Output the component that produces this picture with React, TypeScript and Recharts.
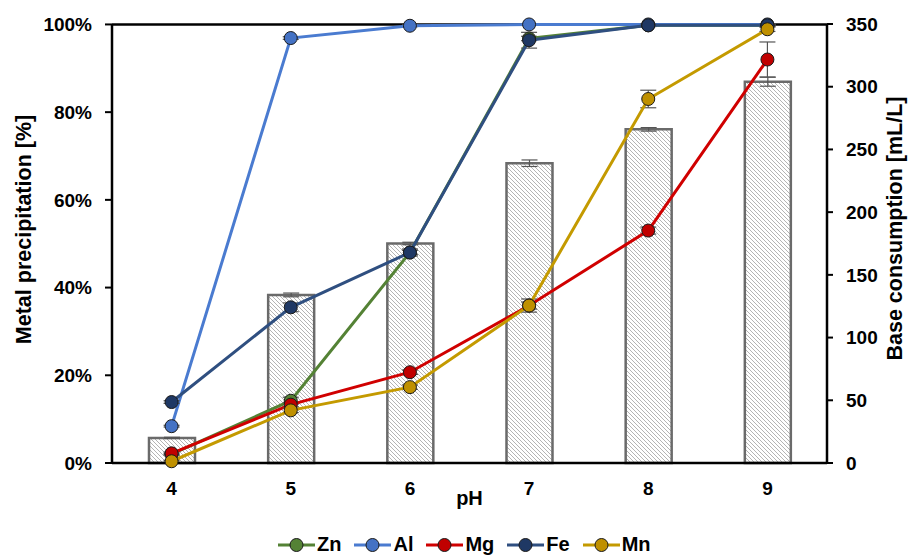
import React from 'react';
import {
  ComposedChart, Bar, Line, XAxis, YAxis, ErrorBar, ReferenceLine,
} from 'recharts';

const categories = ['4', '5', '6', '7', '8', '9'];
const baseConsumption = [20, 134, 175, 239, 266, 304];
const baseErr = [0.5, 1.5, 1, 2.6, 1.4, 3.6];
const zn = [2, 14.2, 48, 96.8, 99.8, 99.8];
const al = [8.4, 96.9, 99.7, 100, 100, 100];
const mg = [2.2, 13.3, 20.7, 35.9, 53, 92];
const fe = [13.9, 35.5, 48, 96.4, 99.8, 99.8];
const mn = [0.4, 12, 17.3, 35.9, 83, 98.9];
const mgErr = [0.3, 0.5, 0.5, 0.8, 0.8, 4];
const mnErr = [0.2, 0.5, 0.5, 1.5, 2, 0.5];
const feErr = [0.3, 1, 0.8, 1.8, 0.3, 0.3];
const znErr = [0.2, 0.8, 0.5, 0.5, 0.2, 0.2];
const alErr = [0.2, 0.3, 0.2, 0.1, 0.1, 0.1];

const series = [
  { key: 'Zn', values: zn, err: znErr, line: '#548235', dot: '#548235' },
  { key: 'Al', values: al, err: alErr, line: '#4A7BD0', dot: '#4472C4' },
  { key: 'Mg', values: mg, err: mgErr, line: '#D00000', dot: '#C00000' },
  { key: 'Fe', values: fe, err: feErr, line: '#2F4F80', dot: '#1F3864' },
  { key: 'Mn', values: mn, err: mnErr, line: '#C49A00', dot: '#BF9000' },
];

const data = categories.map((c, i) => {
  const row: any = { ph: c, base: baseConsumption[i], baseErr: baseErr[i] };
  series.forEach((s) => {
    row[s.key] = s.values[i];
    row[s.key + 'Err'] = s.err[i];
  });
  return row;
});

const FONT = '"Liberation Sans", Arial, sans-serif';

const LeftTitle = (props: any) => {
  const vb = props.viewBox || { x: 0, y: 24, width: 112, height: 439 };
  const x = vb.x + 24;
  const y = vb.y + vb.height / 2 - 14;
  return (
    <text x={x} y={y} transform={`rotate(-90, ${x}, ${y})`} textAnchor="middle" dominantBaseline="central"
      fontFamily={FONT} fontWeight="bold" fontSize={21.5} fill="#000">
      Metal precipitation [%]
    </text>
  );
};

const RightTitle = (props: any) => {
  const vb = props.viewBox || { x: 827, y: 24, width: 85, height: 439 };
  const x = vb.x + 68;
  const y = vb.y + vb.height / 2 - 15;
  return (
    <text x={x} y={y} transform={`rotate(-90, ${x}, ${y})`} textAnchor="middle" dominantBaseline="central"
      fontFamily={FONT} fontWeight="bold" fontSize={21.5} fill="#000">
      Base consumption [mL/L]
    </text>
  );
};

const tickStyle = { fontFamily: FONT, fontWeight: 'bold' as const, fontSize: 19, fill: '#000' };

const LegendBox = () => (
  <div style={{
    position: 'absolute', left: 278, top: 533, display: 'flex', alignItems: 'center',
    fontFamily: FONT, fontWeight: 'bold', fontSize: 20, lineHeight: '23px', color: '#000',
  }}>
    {series.map((s) => (
      <div key={s.key} style={{ display: 'flex', alignItems: 'center', marginRight: 13 }}>
        <svg width={37} height={16} style={{ marginRight: 2 }}>
          <line x1={0} y1={8} x2={37} y2={8} stroke={s.line} strokeWidth={3} />
          <circle cx={18.5} cy={8} r={6.5} fill={s.dot} stroke="#1a1a1a" strokeWidth={1} />
        </svg>
        <span>{s.key}</span>
      </div>
    ))}
  </div>
);

export default function App() {
  return (
    <div style={{ position: 'absolute', left: 0, top: 0, width: 912, height: 556, background: '#fff' }}>
      <ComposedChart width={912} height={556} data={data}
        margin={{ top: 24, right: 0, bottom: 48, left: 0 }}>
        <defs>
          <pattern id="hatch" width="4" height="4" patternUnits="userSpaceOnUse">
            <rect width="4" height="4" fill="#ffffff" />
            <path d="M-1,3 l2,2 M0,0 l4,4 M3,-1 l2,2" stroke="#b4b4b4" strokeWidth={1} />
          </pattern>
        </defs>
        <XAxis dataKey="ph" xAxisId={0} tickLine={false} tickSize={6} tickMargin={13}
          axisLine={{ stroke: '#000', strokeWidth: 2.5 }} tick={tickStyle} height={45}
          label={{ value: 'pH', position: 'insideBottom', offset: 3, style: { fontFamily: FONT, fontWeight: 'bold', fontSize: 20, fill: '#000' } }} />
        <YAxis yAxisId="left" orientation="left" width={112} domain={[0, 100]} ticks={[0, 20, 40, 60, 80, 100]}
          tickFormatter={(v: number) => `${v}%`} tick={tickStyle} tickSize={7} tickMargin={13}
          tickLine={{ stroke: '#000', strokeWidth: 2 }} axisLine={{ stroke: '#000', strokeWidth: 2.5 }}
          label={<LeftTitle />} />
        <YAxis yAxisId="right" orientation="right" width={85} domain={[0, 350]} ticks={[0, 50, 100, 150, 200, 250, 300, 350]}
          tick={{ ...tickStyle, textAnchor: 'start' }} tickSize={6} tickMargin={13}
          tickLine={{ stroke: '#000', strokeWidth: 2 }} axisLine={{ stroke: '#000', strokeWidth: 2.5 }}
          label={<RightTitle />} />
        <ReferenceLine yAxisId="left" y={100} stroke="#000" strokeWidth={2.5} />
        <Bar yAxisId="right" dataKey="base" barSize={46} fill="url(#hatch)" stroke="#6a6a6a" strokeWidth={2.5}
          isAnimationActive={false}>
          <ErrorBar dataKey="baseErr" width={8} stroke="#555" strokeWidth={1.2} />
        </Bar>
        {series.map((s) => (
          <Line key={s.key} yAxisId="left" dataKey={s.key} stroke={s.line} strokeWidth={3}
            dot={{ r: 6.5, fill: s.dot, stroke: '#1a1a1a', strokeWidth: 1 }} activeDot={false}
            isAnimationActive={false}>
            <ErrorBar dataKey={s.key + 'Err'} width={8} stroke="#555" strokeWidth={1.2} />
          </Line>
        ))}
      </ComposedChart>
      <LegendBox />
    </div>
  );
}
